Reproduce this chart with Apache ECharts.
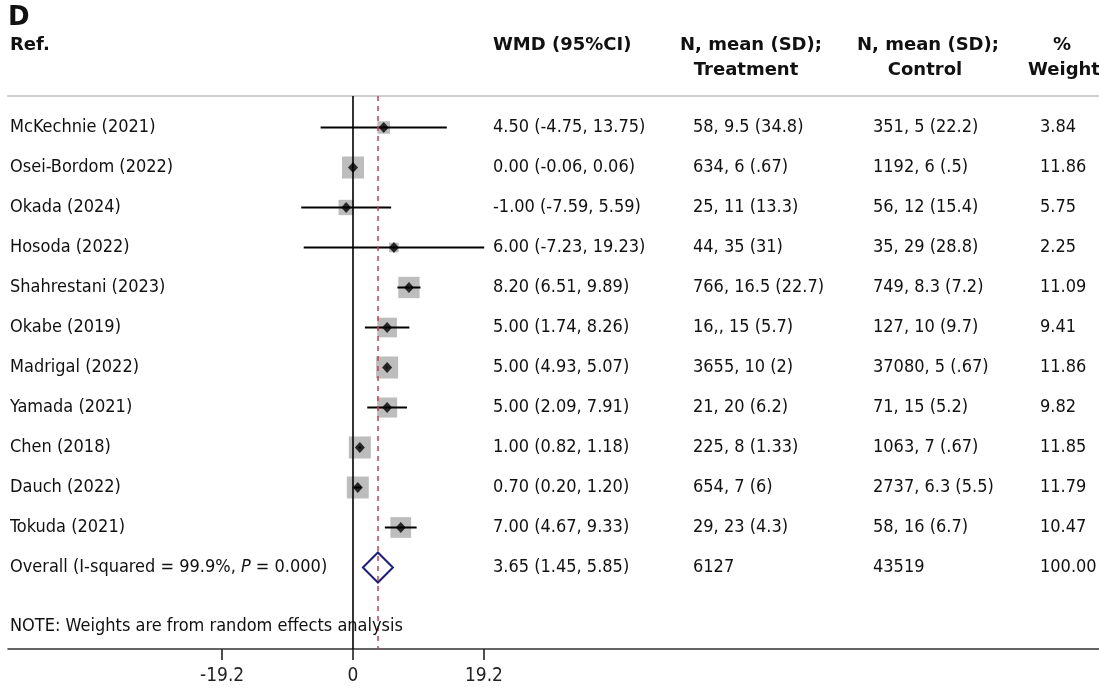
<!DOCTYPE html>
<html>
<head>
<meta charset="utf-8">
<script src="https://cdn.jsdelivr.net/npm/echarts@6/dist/echarts.min.js"></script>
<style>
html,body{margin:0;padding:0;background:#fff;}
#chart{width:1099px;height:689px;}
</style>
</head>
<body>
<div id="chart"></div>
<script>
const studies = ["McKechnie (2021)", "Osei-Bordom (2022)", "Okada (2024)", "Hosoda (2022)", "Shahrestani (2023)", "Okabe (2019)", "Madrigal (2022)", "Yamada (2021)", "Chen (2018)", "Dauch (2022)", "Tokuda (2021)"];
const estimates = [4.50, 0.00, -1.00, 6.00, 8.20, 5.00, 5.00, 5.00, 1.00, 0.70, 7.00];
const lowerCI = [-4.75, -0.06, -7.59, -7.23, 6.51, 1.74, 4.93, 2.09, 0.82, 0.20, 4.67];
const upperCI = [13.75, 0.06, 5.59, 19.23, 9.89, 8.26, 5.07, 7.91, 1.18, 1.20, 9.33];
const treatmentText = ["58, 9.5 (34.8)", "634, 6 (.67)", "25, 11 (13.3)", "44, 35 (31)", "766, 16.5 (22.7)", "16,, 15 (5.7)", "3655, 10 (2)", "21, 20 (6.2)", "225, 8 (1.33)", "654, 7 (6)", "29, 23 (4.3)"];
const controlText = ["351, 5 (22.2)", "1192, 6 (.5)", "56, 12 (15.4)", "35, 29 (28.8)", "749, 8.3 (7.2)", "127, 10 (9.7)", "37080, 5 (.67)", "71, 15 (5.2)", "1063, 7 (.67)", "2737, 6.3 (5.5)", "58, 16 (6.7)"];
const weights = [3.84, 11.86, 5.75, 2.25, 11.09, 9.41, 11.86, 9.82, 11.85, 11.79, 10.47];
const overallEstimate = 3.65;
const overallLower = 1.45;
const overallUpper = 5.85;
const overallTreatmentN = "6127";
const overallControlN = "43519";
const overallWeight = "100.00";
const xTickValues = [-19.2, 0, 19.2];
const noteText = "NOTE: Weights are from random effects analysis";

const FONT = '"DejaVu Sans Condensed", "DejaVu Sans", sans-serif';
const BFONT = '"DejaVu Sans", sans-serif';
const nRows = studies.length;
const overallRow = nRows;

const chart = echarts.init(document.getElementById('chart'), null, {renderer: 'canvas'});

function fmt(v){ return v.toFixed(2); }

const studyData = studies.map((s, i) => [lowerCI[i], upperCI[i], estimates[i], i, weights[i]]);
const pointData = studies.map((s, i) => [estimates[i], i]);
const textRows = [];
for (let i = 0; i <= nRows; i++) textRows.push([0, i]);

function textEl(x, y, str, extra) {
  return {
    type: 'text',
    style: Object.assign({x: x, y: y, text: str, font: '18px ' + FONT, fill: '#111', textVerticalAlign: 'middle', textAlign: 'left'}, extra || {})
  };
}
const HB = 'bold 18px ' + BFONT;

const option = {
  animation: false,
  backgroundColor: '#fff',
  grid: {left: 8, right: 0, top: 96, bottom: 40, containLabel: false},
  xAxis: [{
    type: 'value', min: -50.59, max: 109.38,
    position: 'bottom',
    splitLine: {show: false},
    axisLine: {show: true, onZero: false, lineStyle: {color: '#333', width: 1.6}},
    axisTick: {show: true, customValues: xTickValues, length: 11, inside: false, lineStyle: {color: '#222', width: 1.6}},
    axisLabel: {show: true, customValues: xTickValues, margin: 18, color: '#222', fontSize: 19, fontFamily: FONT,
      formatter: v => String(v)}
  }, {
    type: 'value', min: -50.59, max: 109.38,
    position: 'top',
    splitLine: {show: false},
    axisLine: {show: true, onZero: false, lineStyle: {color: '#cfcfcf', width: 2}},
    axisTick: {show: false}, axisLabel: {show: false}
  }],
  yAxis: {
    type: 'value', inverse: true, min: -0.7875, max: 13.0375,
    show: false
  },
  graphic: [
    textEl(8, 18, 'D', {font: 'bold 26px ' + BFONT}),
    textEl(10, 45, 'Ref.', {font: HB}),
    textEl(493, 45, 'WMD (95%CI)', {font: HB}),
    textEl(751, 45, 'N, mean (SD);', {font: HB, textAlign: 'center'}),
    textEl(746, 70, 'Treatment', {font: HB, textAlign: 'center'}),
    textEl(928, 45, 'N, mean (SD);', {font: HB, textAlign: 'center'}),
    textEl(925, 70, 'Control', {font: HB, textAlign: 'center'}),
    textEl(1062, 45, '%', {font: HB, textAlign: 'center'}),
    textEl(1064, 70, 'Weight', {font: HB, textAlign: 'center'})
  ],
  series: [
    {
      type: 'custom',
      name: 'studies',
      xAxisIndex: 0,
      data: studyData,
      z: 3,
      renderItem: function (params, api) {
        const lo = api.value(0), hi = api.value(1), est = api.value(2), row = api.value(3), w = api.value(4);
        const p1 = api.coord([lo, row]);
        const p2 = api.coord([hi, row]);
        const c = api.coord([est, row]);
        const side = 6.4 * Math.sqrt(w);
        return {
          type: 'group',
          children: [
            {type: 'rect', shape: {x: c[0] - side / 2, y: c[1] - side / 2, width: side, height: side}, style: {fill: '#bdbdbd'}},
            {type: 'line', shape: {x1: p1[0], y1: p1[1], x2: p2[0], y2: p2[1]}, style: {stroke: '#000', lineWidth: 2}}
          ]
        };
      },
      markLine: {
        silent: true,
        symbol: 'none',
        label: {show: false},
        data: [
          {xAxis: 0, lineStyle: {color: '#000', width: 1.6, type: 'solid'}},
          {xAxis: overallEstimate, lineStyle: {color: '#b8464f', width: 1.5, type: [5, 5]}}
        ]
      }
    },
    {
      type: 'scatter',
      name: 'points',
      data: pointData,
      symbol: 'diamond',
      symbolSize: [10, 11],
      itemStyle: {color: '#000'},
      z: 5
    },
    {
      type: 'custom',
      name: 'overall',
      data: [[overallLower, overallUpper, overallEstimate, overallRow]],
      z: 4,
      renderItem: function (params, api) {
        const lo = api.value(0), hi = api.value(1), est = api.value(2), row = api.value(3);
        const L = api.coord([lo, row]);
        const R = api.coord([hi, row]);
        const T = api.coord([est, row - 0.375]);
        const B = api.coord([est, row + 0.375]);
        return {
          type: 'polygon',
          shape: {points: [L, T, R, B]},
          style: {fill: 'none', stroke: '#1f1f7a', lineWidth: 2}
        };
      }
    },
    {
      type: 'custom',
      name: 'text',
      data: textRows,
      z: 6,
      silent: true,
      renderItem: function (params, api) {
        const row = api.value(1);
        const y = api.coord([0, row])[1];
        const children = [];
        if (row < nRows) {
          children.push(textEl(10, y, studies[row]));
          children.push(textEl(493, y, fmt(estimates[row]) + ' (' + fmt(lowerCI[row]) + ', ' + fmt(upperCI[row]) + ')'));
          children.push(textEl(693, y, treatmentText[row]));
          children.push(textEl(873, y, controlText[row]));
          children.push(textEl(1040, y, fmt(weights[row])));
        } else {
          children.push({
            type: 'text',
            style: {
              x: 10, y: y, textVerticalAlign: 'middle',
              text: '{n|Overall (I-squared = 99.9%, }{i|P}{n| = 0.000)}',
              rich: {
                n: {font: '18px ' + FONT, fill: '#111'},
                i: {font: 'italic 18px ' + FONT, fill: '#111'}
              }
            }
          });
          children.push(textEl(493, y, fmt(overallEstimate) + ' (' + fmt(overallLower) + ', ' + fmt(overallUpper) + ')'));
          children.push(textEl(693, y, overallTreatmentN));
          children.push(textEl(873, y, overallControlN));
          children.push(textEl(1040, y, overallWeight));
          const yNote = api.coord([0, row + 1.46])[1];
          children.push(textEl(10, yNote, noteText));
        }
        return {type: 'group', children: children};
      }
    }
  ]
};
chart.setOption(option);
</script>
</body>
</html>
